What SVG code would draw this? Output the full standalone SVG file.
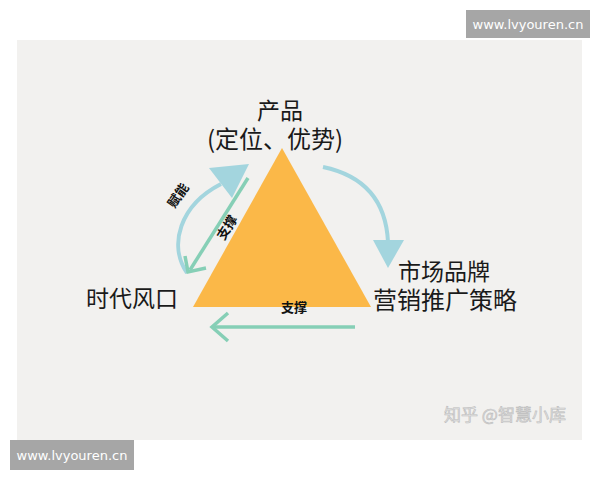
<svg xmlns="http://www.w3.org/2000/svg" width="600" height="480" viewBox="0 0 600 480">
<defs>
<style>
.lbl{font-family:"Noto Sans CJK SC","Noto Sans",sans-serif;font-size:23px;fill:#1a1a1a;text-anchor:middle}
.sm{font-family:"Noto Sans CJK SC",serif;font-size:13px;font-weight:bold;fill:#111;text-anchor:middle}
.url{font-family:"DejaVu Sans","Liberation Sans",sans-serif;font-size:13px;fill:#fff;text-anchor:middle}
.blue{fill:none;stroke:#a3d5de;stroke-width:4}
.green{fill:none;stroke:#86cfb6;stroke-width:3.5}
</style>
</defs>
<rect width="600" height="480" fill="#ffffff"/>
<rect x="17" y="40" width="565" height="400" fill="#f2f1ef"/>
<g id="triangle"><polygon points="282,148 193,307 371,307" fill="#fbb848"/></g>
<g id="product"><text class="lbl" x="280" y="119">产品</text><text class="lbl" x="275" y="148" style="font-size:24px">(定位、优势)</text></g>
<g id="era"><text class="lbl" x="132" y="307">时代风口</text></g>
<g id="market"><text class="lbl" x="444" y="280">市场品牌</text><text class="lbl" x="445" y="309" style="font-size:24px">营销推广策略</text></g>
<g id="connectors">
<path class="blue" d="M187,273 C168,245 180,205 221,184"/>
<polygon points="249,164 209,168 232,198" fill="#a3d5de"/>
<path class="blue" d="M323,167 Q385,180 388,242"/>
<polygon points="373,240 404,240 388,268" fill="#a3d5de"/>
<line class="green" x1="248" y1="178" x2="190" y2="270"/>
<polyline class="green" points="185,256 188,272 206,268"/>
<line class="green" x1="355" y1="327" x2="213" y2="327"/>
<polyline class="green" points="228,313 212,327 228,341"/>
<text class="sm" transform="translate(182,198) rotate(-55)">赋能</text>
<text class="sm" transform="translate(231,230) rotate(-58)">支撑</text>
<text class="sm" x="294" y="312">支撑</text>
</g>
<g id="watermark"><text x="505" y="421" font-family="Noto Sans CJK SC,sans-serif" font-size="17" fill="#e2e2e2" stroke="#bdbdbd" stroke-width="0.6" text-anchor="middle">知乎 @智慧小库</text></g>
<g id="url1"><rect x="466" y="10" width="124" height="28" fill="#a6a6a6"/><text class="url" x="528" y="29">www.lvyouren.cn</text></g>
<g id="url2"><rect x="10" y="440" width="124" height="30" fill="#a6a6a6"/><text class="url" x="72" y="460">www.lvyouren.cn</text></g>
</svg>
